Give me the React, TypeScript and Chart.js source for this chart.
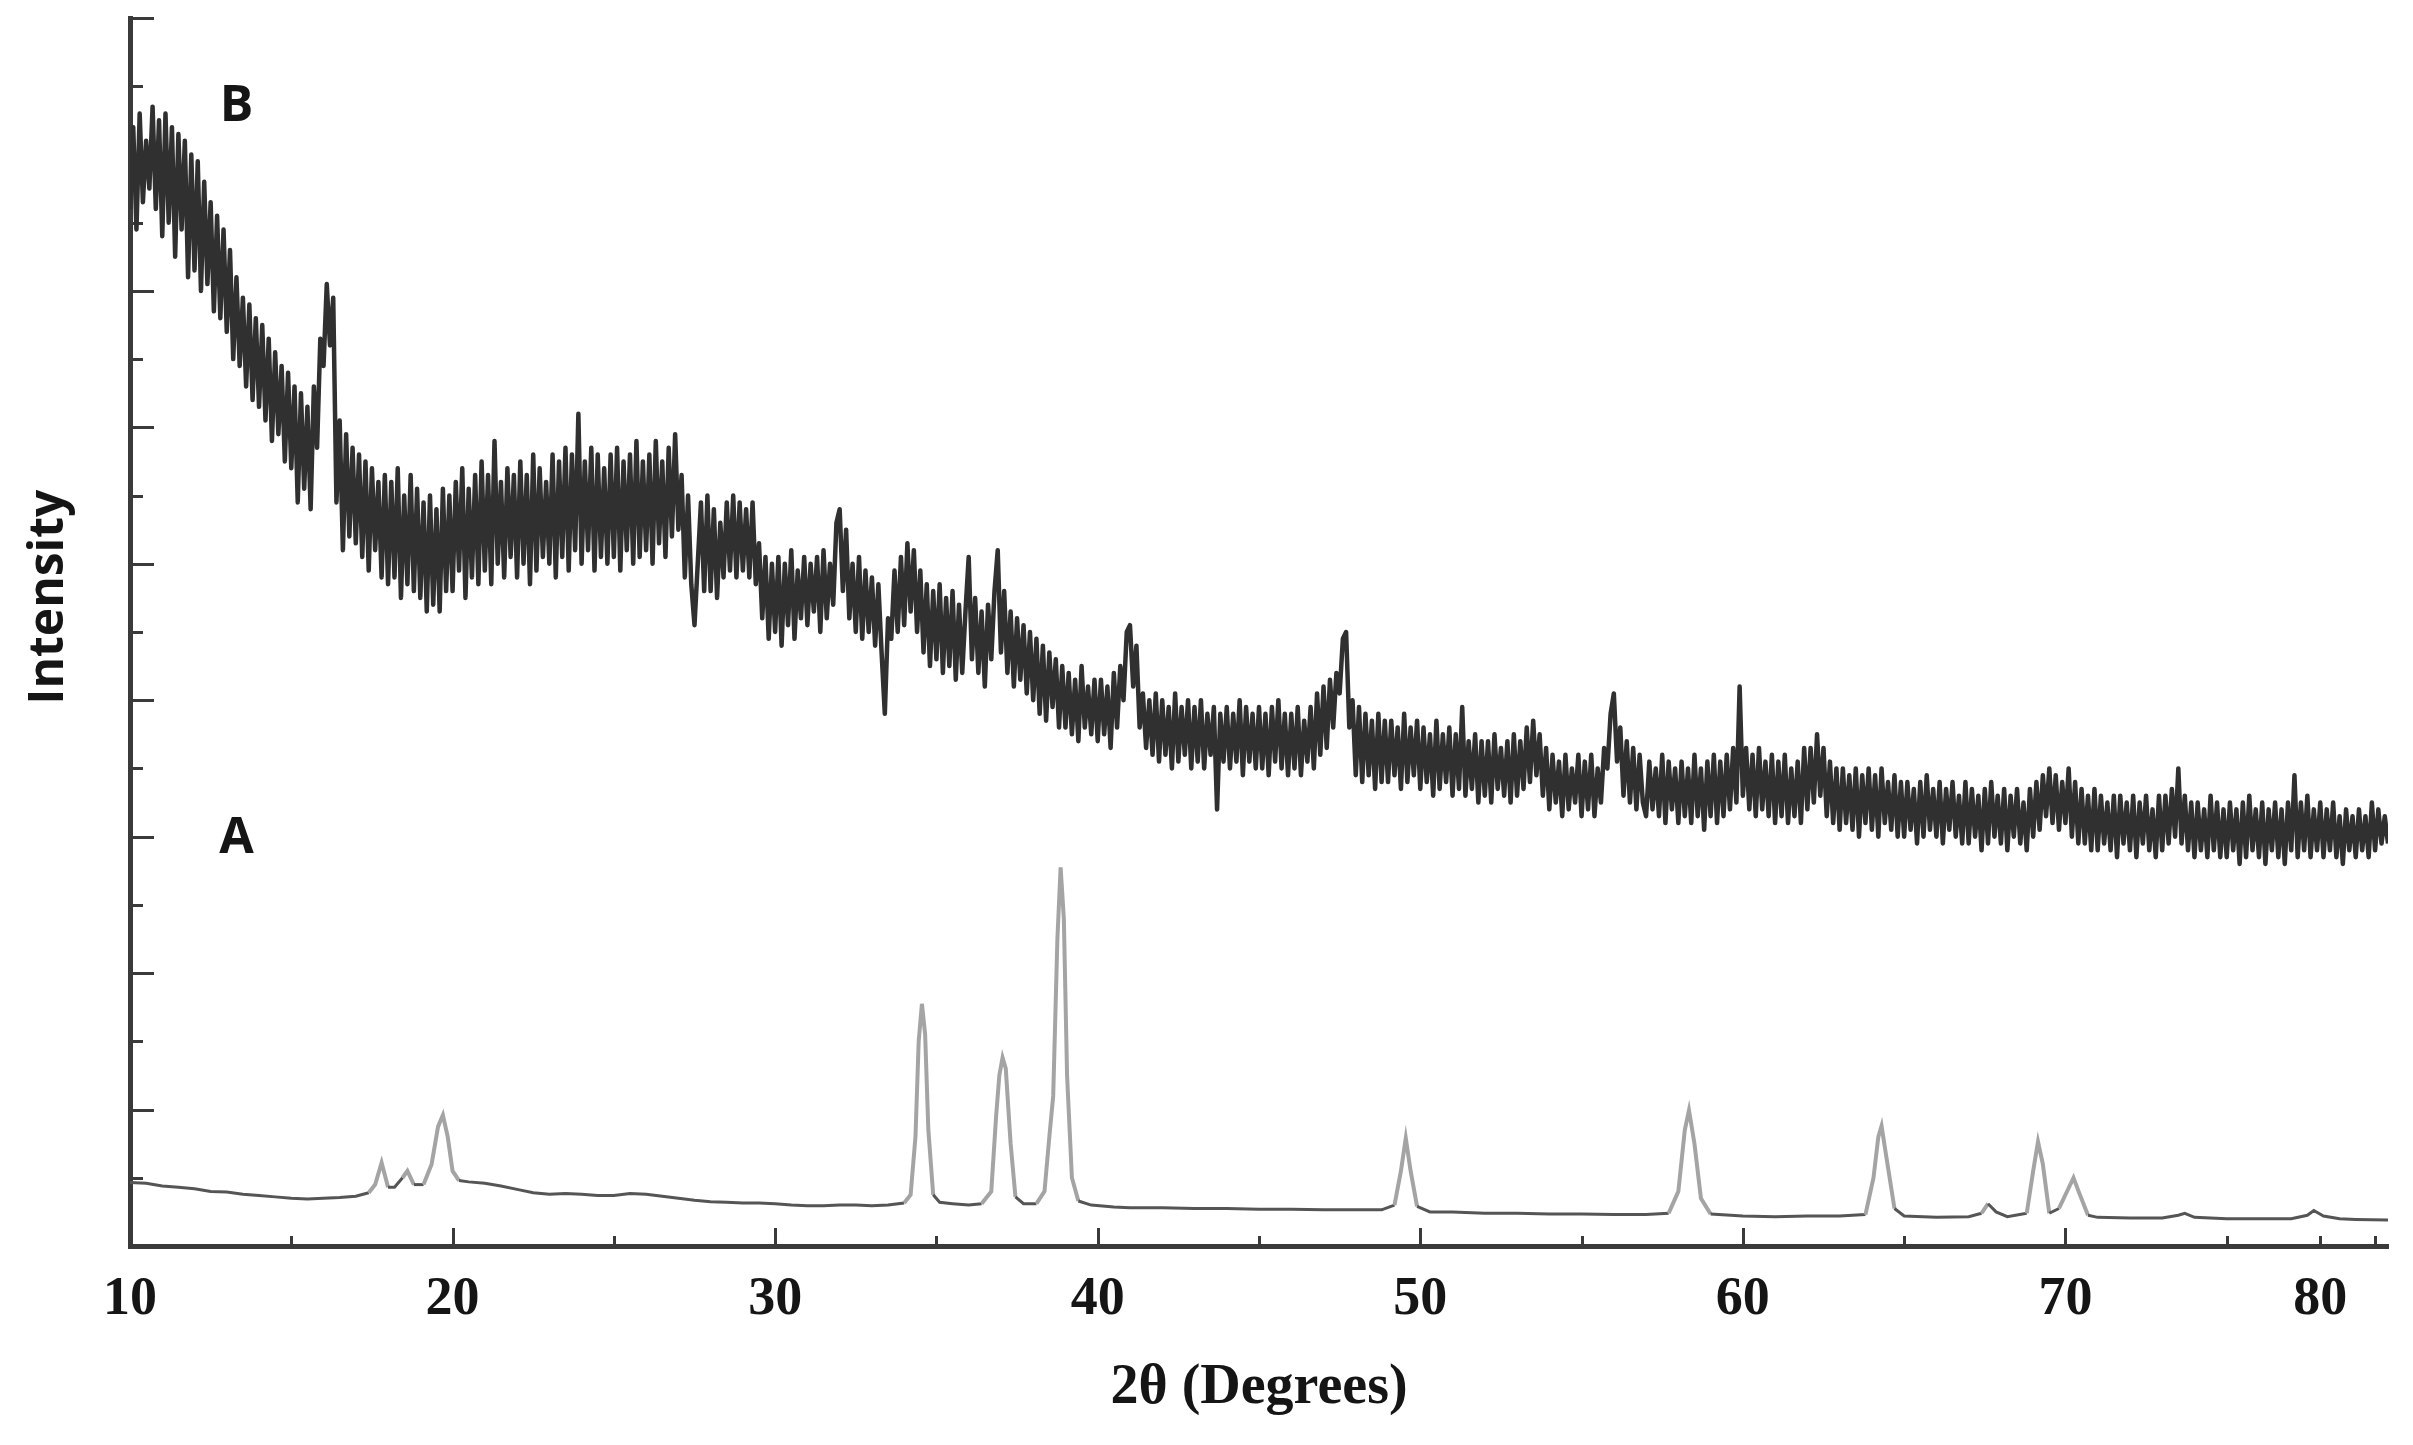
import React, { useEffect, useRef } from 'react';
import { Chart, registerables } from 'chart.js';

Chart.register(...registerables);

// ---- axis ticks / labels ----
const X_TICK_VALUES = [10, 20, 30, 40, 50, 60, 70, 77.9];
const X_TICK_LABELS = ['10', '20', '30', '40', '50', '60', '70', '80'];
const X_MINOR_TICKS = [15, 25, 35, 45, 55, 65, 75, 79.6];
const Y_TICK_VALUES = [1, 2, 3, 4, 5, 6, 7, 8, 9, 10, 11, 12, 13, 14, 15, 16, 17, 18];

const X_TITLE = '2θ (Degrees)';
const Y_TITLE = 'Intensity';
const SERIES_NAMES = ['A', 'B'];

// ---- series A (angle, intensity) ----
const A_POINTS: [number, number][] = [
  [10.0, 0.93], [10.5, 0.92], [11.0, 0.88], [11.5, 0.86], [12.0, 0.84], [12.5, 0.80], [13.0, 0.79], [13.5, 0.76],
  [14.0, 0.74], [14.5, 0.72], [15.0, 0.70], [15.5, 0.69], [16.0, 0.70], [16.5, 0.71], [17.0, 0.73], [17.4, 0.78],
  [17.6, 0.90], [17.8, 1.22], [18.0, 0.86], [18.2, 0.86], [18.45, 1.00], [18.6, 1.10], [18.8, 0.90], [19.1, 0.90],
  [19.35, 1.20], [19.55, 1.75], [19.7, 1.92], [19.85, 1.60], [20.0, 1.10], [20.2, 0.96], [20.5, 0.94], [21.0, 0.92],
  [21.5, 0.88], [22.0, 0.83], [22.5, 0.78], [23.0, 0.76], [23.5, 0.77], [24.0, 0.76], [24.5, 0.74], [25.0, 0.74],
  [25.5, 0.77], [26.0, 0.76], [26.5, 0.73], [27.0, 0.70], [27.5, 0.67], [28.0, 0.65], [28.5, 0.64], [29.0, 0.63],
  [29.5, 0.63], [30.0, 0.62], [30.5, 0.60], [31.0, 0.59], [31.5, 0.59], [32.0, 0.60], [32.5, 0.60], [33.0, 0.59],
  [33.5, 0.60], [34.0, 0.63], [34.2, 0.75], [34.35, 1.60], [34.45, 3.00], [34.55, 3.55], [34.65, 3.10], [34.75, 1.70],
  [34.9, 0.75], [35.1, 0.64], [35.5, 0.62], [36.0, 0.60], [36.4, 0.62], [36.7, 0.80], [36.85, 1.90], [36.95, 2.50],
  [37.05, 2.76], [37.15, 2.60], [37.3, 1.50], [37.45, 0.72], [37.7, 0.62], [38.1, 0.62], [38.35, 0.80], [38.5, 1.60],
  [38.62, 2.20], [38.75, 4.50], [38.85, 5.55], [38.95, 4.80], [39.05, 2.50], [39.2, 1.00], [39.4, 0.66], [39.8, 0.60],
  [40.5, 0.57], [41.0, 0.56], [42.0, 0.56], [43.0, 0.55], [44.0, 0.55], [45.0, 0.54], [46.0, 0.54], [47.0, 0.53],
  [48.0, 0.53], [48.8, 0.53], [49.2, 0.60], [49.4, 1.10], [49.55, 1.58], [49.7, 1.10], [49.9, 0.58], [50.3, 0.50],
  [51.0, 0.50], [52.0, 0.48], [53.0, 0.48], [54.0, 0.47], [55.0, 0.47], [56.0, 0.46], [57.0, 0.46], [57.7, 0.48],
  [58.0, 0.80], [58.2, 1.70], [58.33, 1.99], [58.5, 1.50], [58.7, 0.70], [59.0, 0.47], [60.0, 0.44], [61.0, 0.43],
  [62.0, 0.44], [63.0, 0.44], [63.8, 0.46], [64.05, 1.00], [64.2, 1.60], [64.3, 1.76], [64.45, 1.30], [64.7, 0.55],
  [65.0, 0.44], [66.0, 0.42], [67.0, 0.43], [67.4, 0.48], [67.6, 0.62], [67.85, 0.50], [68.2, 0.43], [68.8, 0.48],
  [69.0, 1.10], [69.15, 1.53], [69.3, 1.20], [69.5, 0.48], [69.8, 0.55], [70.1, 0.85], [70.25, 1.00], [70.45, 0.75],
  [70.7, 0.45], [71.0, 0.42], [72.0, 0.41], [73.0, 0.41], [73.5, 0.45], [73.7, 0.48], [74.0, 0.42], [75.0, 0.40],
  [76.0, 0.40], [77.0, 0.40], [77.5, 0.45], [77.7, 0.52], [78.0, 0.44], [78.5, 0.40], [79.0, 0.39], [80.0, 0.38],
];

// ---- series B: one row of readings per degree, starting at 10° ----
const B_START = 10;
const B_ROWS: number[][] = [
  [15.2, 16.4, 14.9, 16.6, 15.3, 16.2, 15.5, 16.7, 15.2, 16.5], // 10
  [14.8, 16.6, 15.0, 16.4, 14.5, 16.3, 14.9, 16.2, 14.2, 16.0], // 11
  [14.3, 15.9, 14.0, 15.6, 14.1, 15.3, 13.7, 15.1, 13.6, 14.9], // 12
  [13.4, 14.6, 13.0, 14.2, 12.9, 13.9, 12.6, 13.8, 12.4, 13.6], // 13
  [12.3, 13.5, 12.1, 13.3, 11.8, 13.1, 11.9, 12.9, 11.5, 12.8], // 14
  [11.4, 12.6, 10.9, 12.5, 11.1, 12.3, 10.8, 12.6, 11.7, 13.3], // 15
  [12.9, 14.1, 13.2, 13.9, 10.9, 12.1, 10.2, 11.9, 10.4, 11.7], // 16
  [10.3, 11.6, 10.1, 11.5, 9.9, 11.4, 10.2, 11.2, 9.8, 11.3], // 17
  [9.7, 11.2, 9.8, 11.4, 9.5, 11.0, 9.7, 11.3, 9.6, 11.1], // 18
  [9.5, 10.9, 9.3, 11.0, 9.4, 10.8, 9.3, 11.1, 9.6, 11.0], // 19
  [9.6, 11.2, 9.9, 11.4, 9.5, 11.1, 9.8, 11.3, 9.7, 11.5], // 20
  [9.9, 11.3, 9.7, 11.8, 10.0, 11.2, 9.8, 11.4, 10.1, 11.3], // 21
  [9.8, 11.5, 10.0, 11.3, 9.7, 11.6, 9.9, 11.4, 10.1, 11.2], // 22
  [10.0, 11.6, 9.8, 11.5, 10.1, 11.7, 9.9, 11.6, 10.2, 12.2], // 23
  [10.0, 11.5, 10.2, 11.7, 9.9, 11.6, 10.1, 11.4, 10.0, 11.6], // 24
  [10.1, 11.7, 9.9, 11.5, 10.2, 11.6, 10.0, 11.8, 10.1, 11.5], // 25
  [10.2, 11.6, 10.0, 11.8, 10.3, 11.5, 10.1, 11.7, 10.4, 11.9], // 26
  [10.5, 11.3, 9.8, 11.0, 9.7, 9.1, 10.0, 10.9, 9.6, 11.0], // 27
  [9.6, 10.8, 9.5, 10.6, 9.8, 10.9, 9.9, 11.0, 9.8, 10.9], // 28
  [9.9, 10.8, 9.8, 10.9, 9.7, 10.3, 9.2, 10.1, 8.9, 10.0], // 29
  [9.0, 10.1, 8.8, 10.0, 9.1, 10.2, 8.9, 9.9, 9.2, 10.1], // 30
  [9.1, 10.0, 9.3, 10.1, 9.0, 10.2, 9.2, 10.0, 9.4, 10.6], // 31
  [10.8, 9.6, 10.5, 9.2, 10.0, 9.0, 10.1, 8.9, 9.9, 9.0], // 32
  [9.8, 8.8, 9.7, 8.7, 7.8, 9.2, 8.9, 9.9, 9.0, 10.1], // 33
  [9.1, 10.3, 9.3, 10.2, 9.0, 9.9, 8.7, 9.7, 8.5, 9.6], // 34
  [8.6, 9.7, 8.4, 9.5, 8.5, 9.6, 8.3, 9.4, 8.4, 9.3], // 35
  [10.1, 8.6, 9.5, 8.4, 9.3, 8.2, 9.4, 8.6, 9.6, 10.2], // 36
  [8.7, 9.6, 8.4, 9.3, 8.2, 9.2, 8.3, 9.1, 8.1, 9.0], // 37
  [8.0, 8.9, 7.8, 8.8, 7.7, 8.7, 7.9, 8.6, 7.6, 8.5], // 38
  [7.6, 8.4, 7.5, 8.3, 7.4, 8.5, 7.6, 8.2, 7.5, 8.3], // 39
  [7.4, 8.3, 7.5, 8.2, 7.3, 8.4, 7.6, 8.5, 8.0, 9.0], // 40
  [9.1, 8.2, 8.8, 7.6, 8.1, 7.3, 8.0, 7.2, 8.1, 7.1], // 41
  [8.0, 7.2, 7.9, 7.0, 8.1, 7.1, 7.9, 7.2, 8.0, 7.0], // 42
  [7.9, 7.1, 8.0, 7.0, 7.8, 7.2, 7.9, 6.4, 7.8, 7.1], // 43
  [7.9, 7.0, 7.8, 7.1, 8.0, 6.9, 7.9, 7.1, 7.8, 7.0], // 44
  [7.9, 7.0, 7.8, 6.9, 7.9, 7.1, 8.0, 7.0, 7.8, 6.9], // 45
  [7.8, 7.0, 7.9, 6.9, 7.7, 7.1, 7.9, 7.0, 8.1, 7.2], // 46
  [8.2, 7.3, 8.3, 7.6, 8.4, 8.1, 8.9, 9.0, 7.6, 8.0], // 47
  [6.9, 7.9, 6.8, 7.8, 6.9, 7.7, 6.7, 7.8, 6.8, 7.7], // 48
  [6.8, 7.7, 6.9, 7.6, 6.7, 7.8, 6.8, 7.6, 6.9, 7.7], // 49
  [6.7, 7.6, 6.8, 7.5, 6.6, 7.7, 6.7, 7.5, 6.8, 7.6], // 50
  [6.6, 7.5, 6.7, 7.9, 6.6, 7.4, 6.7, 7.5, 6.5, 7.4], // 51
  [6.6, 7.4, 6.5, 7.5, 6.7, 7.3, 6.6, 7.4, 6.5, 7.5], // 52
  [6.6, 7.4, 6.7, 7.6, 6.8, 7.7, 6.9, 7.5, 6.6, 7.3], // 53
  [6.4, 7.2, 6.5, 7.1, 6.3, 7.2, 6.4, 7.0, 6.5, 7.2], // 54
  [6.3, 7.1, 6.4, 7.2, 6.3, 7.0, 6.5, 7.3, 7.0, 7.8], // 55
  [8.1, 7.1, 7.6, 6.6, 7.4, 6.5, 7.3, 6.4, 7.2, 6.5], // 56
  [6.3, 7.1, 6.4, 7.0, 6.3, 7.2, 6.2, 7.1, 6.4, 7.0], // 57
  [6.2, 7.1, 6.3, 7.0, 6.2, 7.2, 6.3, 7.0, 6.1, 7.1], // 58
  [6.3, 7.2, 6.2, 7.1, 6.3, 7.2, 6.4, 7.3, 6.5, 8.2], // 59
  [6.6, 7.3, 6.4, 7.2, 6.3, 7.3, 6.4, 7.1, 6.3, 7.2], // 60
  [6.2, 7.1, 6.3, 7.2, 6.2, 7.0, 6.3, 7.1, 6.2, 7.3], // 61
  [6.4, 7.3, 6.5, 7.5, 6.6, 7.3, 6.3, 7.1, 6.2, 7.0], // 62
  [6.1, 7.0, 6.2, 6.9, 6.1, 7.0, 6.0, 6.9, 6.2, 7.0], // 63
  [6.1, 6.9, 6.0, 7.0, 6.2, 6.8, 6.1, 6.9, 6.0, 6.8], // 64
  [6.0, 6.8, 6.1, 6.7, 5.9, 6.8, 6.0, 6.9, 6.1, 6.7], // 65
  [6.0, 6.8, 5.9, 6.7, 6.1, 6.8, 6.0, 6.6, 5.9, 6.8], // 66
  [5.9, 6.7, 6.0, 6.6, 5.8, 6.7, 5.9, 6.8, 6.0, 6.6], // 67
  [5.9, 6.7, 5.8, 6.6, 6.0, 6.7, 5.9, 6.5, 5.8, 6.7], // 68
  [6.0, 6.8, 6.1, 6.9, 6.3, 7.0, 6.2, 6.9, 6.1, 6.8], // 69
  [6.2, 7.0, 6.0, 6.8, 5.9, 6.7, 5.9, 6.6, 5.8, 6.7], // 70
  [5.8, 6.6, 5.9, 6.5, 5.8, 6.6, 5.7, 6.6, 5.9, 6.5], // 71
  [5.8, 6.6, 5.7, 6.5, 5.9, 6.6, 5.8, 6.4, 5.7, 6.6], // 72
  [5.8, 6.6, 5.9, 6.7, 6.0, 7.0, 5.9, 6.6, 5.8, 6.5], // 73
  [5.7, 6.5, 5.8, 6.4, 5.7, 6.6, 5.8, 6.5, 5.7, 6.4], // 74
  [5.7, 6.5, 5.8, 6.4, 5.6, 6.5, 5.7, 6.6, 5.8, 6.4], // 75
  [5.7, 6.5, 5.6, 6.4, 5.8, 6.5, 5.7, 6.4, 5.6, 6.5], // 76
  [5.8, 6.9, 5.7, 6.5, 5.8, 6.6, 5.7, 6.4, 5.8, 6.5], // 77
  [5.7, 6.4, 5.8, 6.5, 5.7, 6.3, 5.6, 6.4, 5.8, 6.3], // 78
  [5.7, 6.4, 5.8, 6.3, 5.7, 6.5, 5.8, 6.4, 5.9, 6.3], // 79
];
const B_END: [number, number] = [80, 5.9];

const INK = '#151515';
const AXIS = '#3a3a3a';

const decorPlugin = {
  id: 'xrdDecor',
  beforeDatasetsDraw(chart: any) {
    const { ctx, chartArea, scales } = chart;
    const x = scales.x;
    const y = scales.y;
    ctx.save();
    ctx.strokeStyle = AXIS;
    ctx.lineWidth = 3;
    Y_TICK_VALUES.forEach((v) => {
      const py = Math.round(y.getPixelForValue(v)) + 0.5;
      const len = v % 2 === 0 ? 24 : 13;
      ctx.beginPath();
      ctx.moveTo(chartArea.left, py);
      ctx.lineTo(chartArea.left + len, py);
      ctx.stroke();
    });
    const xTicks = X_TICK_VALUES.slice(1).concat(X_MINOR_TICKS);
    xTicks.forEach((v) => {
      const px = Math.round(x.getPixelForValue(v)) + 0.5;
      const major = X_TICK_VALUES.indexOf(v) >= 0 && v <= 70;
      const len = major ? 18 : 10;
      ctx.beginPath();
      ctx.moveTo(px, chartArea.bottom);
      ctx.lineTo(px, chartArea.bottom - len);
      ctx.stroke();
    });
    ctx.restore();
  },
  afterDraw(chart: any) {
    const { ctx, scales, chartArea } = chart;
    const x = scales.x;
    const y = scales.y;
    ctx.save();
    ctx.fillStyle = INK;
    // y-axis title
    ctx.font = 'bold 48px "Open Sans"';
    ctx.textAlign = 'center';
    ctx.textBaseline = 'alphabetic';
    ctx.translate(63, (chartArea.top + chartArea.bottom) / 2 - 35);
    ctx.rotate(-Math.PI / 2);
    ctx.fillText(Y_TITLE, 0, 0);
    ctx.restore();

    ctx.save();
    ctx.fillStyle = INK;
    ctx.font = 'bold 50px "Open Sans"';
    ctx.textAlign = 'center';
    ctx.textBaseline = 'alphabetic';
    ctx.fillText(SERIES_NAMES[0], x.getPixelForValue(13.3), y.getPixelForValue(5.76));
    ctx.fillText(SERIES_NAMES[1], x.getPixelForValue(13.3), y.getPixelForValue(16.49));
    ctx.restore();
  },
};

export default function App() {
  const canvasRef = useRef<HTMLCanvasElement | null>(null);

  useEffect(() => {
    const canvas = canvasRef.current;
    if (!canvas) return;

    const aData = A_POINTS.map(([ang, val]) => ({ x: ang, y: val }));
    const bData = B_ROWS.flatMap((row, i) =>
      row.map((val, j) => ({ x: B_START + i + j / row.length, y: val }))
    );
    bData.push({ x: B_END[0], y: B_END[1] });

    const chart = new Chart(canvas, {
      type: 'line',
      data: {
        datasets: [
          {
            label: SERIES_NAMES[0],
            data: aData,
            borderColor: '#555555',
            borderWidth: 3,
            pointRadius: 0,
            tension: 0,
            segment: {
              borderColor: (c: any) => {
                const dx = Math.abs(c.p1.x - c.p0.x) || 1;
                const dy = Math.abs(c.p1.y - c.p0.y);
                return dy / dx > 1.2 ? '#a4a4a4' : '#555555';
              },
              borderWidth: (c: any) => {
                const dx = Math.abs(c.p1.x - c.p0.x) || 1;
                const dy = Math.abs(c.p1.y - c.p0.y);
                return dy / dx > 1.2 ? 4 : 3;
              },
            },
          },
          {
            label: SERIES_NAMES[1],
            data: bData,
            borderColor: '#303030',
            borderWidth: 4.5,
            borderJoinStyle: 'round',
            pointRadius: 0,
            tension: 0,
          },
        ],
      },
      options: {
        animation: false,
        responsive: false,
        devicePixelRatio: 1,
        parsing: false,
        normalized: true,
        layout: { padding: { left: 0, top: 18, right: 25, bottom: 0 } },
        plugins: {
          legend: { display: false },
          tooltip: { enabled: false },
        },
        scales: {
          x: {
            type: 'linear',
            position: 'bottom',
            min: 10,
            max: 80,
            afterBuildTicks: (scale: any) => {
              scale.ticks = X_TICK_VALUES.map((v) => ({ value: v }));
            },
            afterFit: (scale: any) => {
              scale.height = 199;
            },
            grid: { display: false, drawTicks: false },
            border: { display: true, color: AXIS, width: 5 },
            ticks: {
              autoSkip: false,
              maxRotation: 0,
              minRotation: 0,
              padding: 22,
              color: INK,
              font: { family: '"Liberation Serif", "Times New Roman", serif', size: 54, weight: 'bold' },
              callback: (value: any) => {
                const i = X_TICK_VALUES.indexOf(Number(value));
                return i >= 0 ? X_TICK_LABELS[i] : '';
              },
            },
            title: {
              display: true,
              text: X_TITLE,
              color: INK,
              font: { family: '"Liberation Serif", "Times New Roman", serif', size: 56, weight: 'bold' },
              padding: { top: 0, bottom: 23 },
            },
          },
          y: {
            type: 'linear',
            min: 0,
            max: 18,
            afterFit: (scale: any) => {
              scale.width = 130;
            },
            grid: { display: false, drawTicks: false },
            border: { display: true, color: AXIS, width: 5 },
            ticks: { display: false },
            title: { display: false },
          },
        },
      },
      plugins: [decorPlugin],
    } as any);

    return () => {
      chart.destroy();
    };
  }, []);

  return (
    <div style={{ position: 'fixed', left: 0, top: 0, width: 2413, height: 1445, background: '#ffffff' }}>
      <canvas ref={canvasRef} width={2413} height={1445} style={{ display: 'block', width: 2413, height: 1445 }} />
    </div>
  );
}
